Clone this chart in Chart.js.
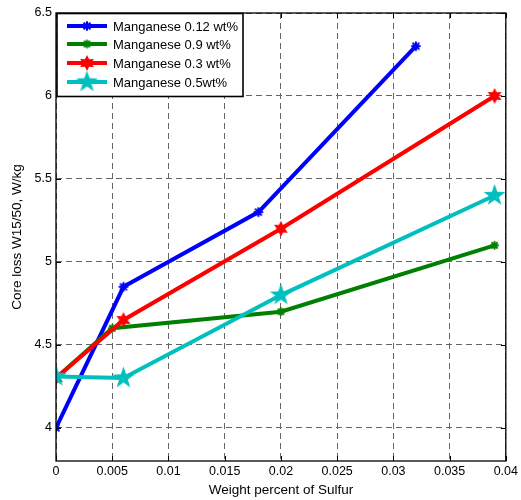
<!DOCTYPE html>
<html><head><meta charset="utf-8">
<script src="https://cdn.jsdelivr.net/npm/chart.js@4"></script>
<style>html,body{margin:0;padding:0;background:#fff}#wrap{width:521px;height:500px}</style>
</head><body><div id="wrap"><canvas id="c" width="521" height="500"></canvas></div>
<script>
// ---- data ----
const seriesLabels = ['Manganese 0.12 wt%', 'Manganese 0.9 wt%', 'Manganese 0.3 wt%', 'Manganese 0.5wt%'];
const xBlue  = [0, 0.006, 0.018, 0.032];
const yBlue  = [4.0, 4.85, 5.3, 6.3];
const xGreen = [0, 0.005, 0.02, 0.039];
const yGreen = [4.3, 4.6, 4.7, 5.1];
const xRed   = [0, 0.006, 0.02, 0.039];
const yRed   = [4.3, 4.65, 5.2, 6.0];
const xCyan  = [0, 0.006, 0.02, 0.039];
const yCyan  = [4.31, 4.30, 4.8, 5.4];
const xTicks = [0, 0.005, 0.01, 0.015, 0.02, 0.025, 0.03, 0.035, 0.04];
const yTicks = [4, 4.5, 5, 5.5, 6, 6.5];

// ---- marker drawing ----
function starCanvas(points, rOuter, rInner, color) {
  const s = Math.ceil(rOuter * 2 + 2);
  const c = document.createElement('canvas'); c.width = s; c.height = s;
  const g = c.getContext('2d');
  g.translate(s / 2, s / 2);
  g.beginPath();
  for (let i = 0; i < points * 2; i++) {
    const r = i % 2 === 0 ? rOuter : rInner;
    const a = -Math.PI / 2 + i * Math.PI / points;
    const px = r * Math.cos(a), py = r * Math.sin(a);
    if (i === 0) g.moveTo(px, py); else g.lineTo(px, py);
  }
  g.closePath(); g.fillStyle = color; g.fill();
  return c;
}
function asteriskCanvas(r, lw, color) {
  const s = Math.ceil(r * 2 + lw + 2);
  const c = document.createElement('canvas'); c.width = s; c.height = s;
  const g = c.getContext('2d');
  g.translate(s / 2, s / 2);
  g.strokeStyle = color; g.lineWidth = lw; g.lineCap = 'round';
  g.beginPath();
  for (let i = 0; i < 4; i++) {
    const a = i * Math.PI / 4;
    g.moveTo(-r * Math.cos(a), -r * Math.sin(a));
    g.lineTo(r * Math.cos(a), r * Math.sin(a));
  }
  g.stroke();
  g.beginPath(); g.arc(0, 0, r * 0.55, 0, Math.PI * 2); g.fillStyle = color; g.fill();
  return c;
}
const colBlue = '#0000ff', colGreen = '#008000', colRed = '#ff0000', colCyan = '#00bfbf';
const mkBlue = asteriskCanvas(4, 2, colBlue);
const mkGreen = asteriskCanvas(3.5, 2, colGreen);
const mkRed = starCanvas(6, 8, 4.2, colRed);
const mkCyan = starCanvas(5, 11.5, 4.6, colCyan);

function pts(xs, ys) { return xs.map((x, i) => ({ x: x, y: ys[i] })); }

const datasets = [
  { label: seriesLabels[0], data: pts(xBlue, yBlue), borderColor: colBlue, backgroundColor: colBlue, pointStyle: mkBlue, order: 4 },
  { label: seriesLabels[1], data: pts(xGreen, yGreen), borderColor: colGreen, backgroundColor: colGreen, pointStyle: mkGreen, order: 3 },
  { label: seriesLabels[2], data: pts(xRed, yRed), borderColor: colRed, backgroundColor: colRed, pointStyle: mkRed, order: 2 },
  { label: seriesLabels[3], data: pts(xCyan, yCyan), borderColor: colCyan, backgroundColor: colCyan, pointStyle: mkCyan, order: 1 }
].map(d => Object.assign(d, { showLine: true, borderWidth: 4, tension: 0, fill: false, pointRadius: 6 }));

const FONT = 'Liberation Sans, Arial, sans-serif';

// frame, inward ticks, legend
const framePlugin = {
  id: 'frame',
  afterDraw(chart) {
    const { ctx, chartArea: a, scales } = chart;
    ctx.save();
    ctx.strokeStyle = '#000'; ctx.lineWidth = 1.3;
    ctx.strokeRect(a.left, a.top, a.right - a.left, a.bottom - a.top);
    ctx.lineWidth = 1;
    ctx.beginPath();
    xTicks.forEach(v => {
      const px = Math.round(scales.x.getPixelForValue(v)) + 0.5;
      ctx.moveTo(px, a.bottom); ctx.lineTo(px, a.bottom - 5);
      ctx.moveTo(px, a.top); ctx.lineTo(px, a.top + 5);
    });
    yTicks.forEach(v => {
      const py = Math.round(scales.y.getPixelForValue(v)) + 0.5;
      ctx.moveTo(a.left, py); ctx.lineTo(a.left + 5, py);
      ctx.moveTo(a.right, py); ctx.lineTo(a.right - 5, py);
    });
    ctx.stroke();

    // legend
    const lx = a.left + 1, ly = a.top + 0.5, lw = 186, lh = 83;
    ctx.fillStyle = '#fff';
    ctx.fillRect(lx, ly, lw, lh);
    ctx.strokeStyle = '#000'; ctx.lineWidth = 1.6;
    ctx.strokeRect(lx, ly, lw, lh);
    ctx.font = '13px ' + FONT;
    ctx.textBaseline = 'middle'; ctx.textAlign = 'left';
    const rows = [26, 44, 63, 82];
    chart.data.datasets.forEach((d, i) => {
      const y = rows[i];
      ctx.strokeStyle = d.borderColor; ctx.lineWidth = 4;
      ctx.beginPath(); ctx.moveTo(67, y); ctx.lineTo(107, y); ctx.stroke();
      const m = d.pointStyle;
      ctx.drawImage(m, 87 - m.width / 2, y - m.height / 2);
      ctx.fillStyle = '#000';
      ctx.fillText(d.label, 113, y + 1);
    });
    ctx.restore();
  }
};

new Chart(document.getElementById('c'), {
  type: 'scatter',
  data: { datasets: datasets },
  options: {
    responsive: false, animation: false,
    layout: { padding: { top: 13, right: 13, left: 0, bottom: 0 } },
    plugins: { legend: { display: false }, tooltip: { enabled: false } },
    scales: {
      x: {
        type: 'linear', min: 0, max: 0.04,
        afterBuildTicks: s => { s.ticks = xTicks.map(v => ({ value: v })); },
        afterFit: s => { s.height = 39; },
        ticks: { color: '#000', font: { family: FONT, size: 12.5 }, padding: 3, maxRotation: 0,
                 callback: v => String(+v.toFixed(3)) },
        grid: { color: '#666', lineWidth: 1, drawTicks: false, tickLength: 0 },
        border: { display: false, dash: [6, 4] },
        title: { display: true, text: 'Weight percent of Sulfur', color: '#000', font: { family: FONT, size: 13.5 }, padding: { top: 0, bottom: 2 } }
      },
      y: {
        type: 'linear', min: 3.8, max: 6.5,
        afterBuildTicks: s => { s.ticks = yTicks.map(v => ({ value: v })); },
        afterFit: s => { s.width = 56; },
        ticks: { color: '#000', font: { family: FONT, size: 12.5 }, padding: 4,
                 callback: v => String(v) },
        grid: { color: '#666', lineWidth: 1, drawTicks: false, tickLength: 0 },
        border: { display: false, dash: [6, 4] },
        title: { display: true, text: 'Core loss W15/50, W/kg', color: '#000', font: { family: FONT, size: 13.5 }, padding: { top: 9, bottom: 0 } }
      }
    }
  },
  plugins: [framePlugin]
});
</script>
</body></html>
